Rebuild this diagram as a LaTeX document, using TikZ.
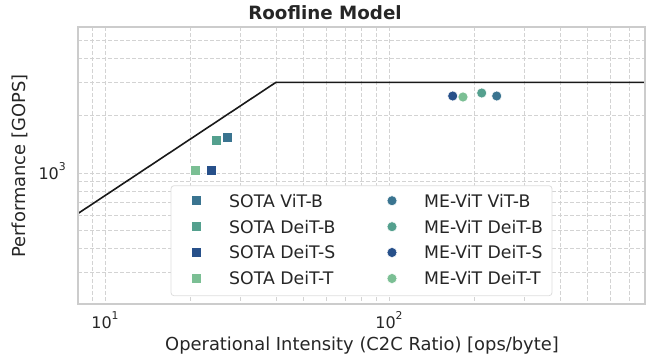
\documentclass[tikz,border=0pt]{standalone}
\usepackage{fontspec}
\setmainfont{DejaVu Sans}
\definecolor{txt}{HTML}{262626}
\definecolor{gridc}{HTML}{D3D3D3}
\definecolor{spinec}{HTML}{CCCCCC}
\definecolor{cvitb}{HTML}{3A7490}
\definecolor{cdeitb}{HTML}{54A08E}
\definecolor{cdeits}{HTML}{27508A}
\definecolor{cdeitt}{HTML}{7BBF94}
\newcommand{\tsup}[1]{\raisebox{8.6pt}{\fontsize{10.8}{11}\selectfont #1}}
\tikzset{
  gridline/.style={draw=gridc, line width=0.8pt, dash pattern=on 4pt off 2pt},
  spine/.style={draw=spinec, line width=1.2pt},
  roof/.style={draw=black!90, line width=1.6pt},
  sq/.style={rectangle, minimum size=10pt, inner sep=0pt, draw=white, line width=0.5pt, fill=#1},
  ci/.style={circle, minimum size=10pt, inner sep=0pt, draw=white, line width=0.5pt, fill=#1},
  legtext/.style={anchor=west, inner sep=0pt, font=\fontsize{17.3}{19}\selectfont},
  ticklab/.style={inner sep=0pt, anchor=base, font=\fontsize{16}{18}\selectfont},
  axlab/.style={inner sep=0pt, font=\fontsize{17.9}{20}\selectfont},
}
\begin{document}
\begin{tikzpicture}[x=1pt,y=-1pt,every node/.append style={text=txt}]
\useasboundingbox (0,0) rectangle (650,362);
% grid
\begin{scope}
\clip (78,27) rectangle (645,304);
\foreach \v in {9,10,20,30,40,50,60,70,80,90,100,200,300,400,500,600,700,800}
  \draw[gridline] ({105+284*(log10(\v)-1)},27) -- ++(0,277);
\foreach \v in {300,400,500,600,700,800,900,1000,2000,3000,4000,5000}
  \draw[gridline] (78,{173-190*(log10(\v)-3)}) -- ++(567,0);
% roofline
\coordinate (r0) at (78,213.5);
\coordinate (knee) at (276,82.3);
\coordinate (r1) at (645,82.3);
\draw[roof] (r0) -- (knee) -- (r1);
\end{scope}
\draw[spine] (78,27) rectangle (645,304);
% data points
\node[sq=cvitb] (sVitB) at (227.5,137.3) {};
\node[sq=cdeitb] (sDeitB) at (216,140.7) {};
\node[sq=cdeits] (sDeitS) at (211,170) {};
\node[sq=cdeitt] (sDeitT) at (195.7,170.7) {};
\node[ci=cdeits] (mDeitS) at (452.7,96) {};
\node[ci=cdeitt] (mDeitT) at (463,97) {};
\node[ci=cdeitb] (mDeitB) at (481.7,93) {};
\node[ci=cvitb] (mVitB) at (496.7,96) {};
% legend
\draw[draw=black!13, fill=white, line width=0.8pt, rounded corners=3pt] (171,185.7) rectangle (552,295.7);
\node[sq=cvitb] (l1) at (196.7,200.7) {};
\node[sq=cdeitb] (l2) at (196.7,226.7) {};
\node[sq=cdeits] (l3) at (196.7,252.5) {};
\node[sq=cdeitt] (l4) at (196.7,278.5) {};
\node[legtext] (t1) at (229,200.7) {SOTA ViT-B};
\node[legtext] (t2) at (229,226.7) {SOTA DeiT-B};
\node[legtext] (t3) at (229,252.5) {SOTA DeiT-S};
\node[legtext] (t4) at (229,278.5) {SOTA DeiT-T};
\node[ci=cvitb] (l5) at (392,200.7) {};
\node[ci=cdeitb] (l6) at (392,226.7) {};
\node[ci=cdeits] (l7) at (392,252.5) {};
\node[ci=cdeitt] (l8) at (392,278.5) {};
\node[legtext] (t5) at (424,200.7) {ME-ViT ViT-B};
\node[legtext] (t6) at (424,226.7) {ME-ViT DeiT-B};
\node[legtext] (t7) at (424,252.5) {ME-ViT DeiT-S};
\node[legtext] (t8) at (424,278.5) {ME-ViT DeiT-T};
% ticks
\node[ticklab] (xt1) at (105,328.3) {10\tsup{1}};
\node[ticklab] (xt2) at (389,328.3) {10\tsup{2}};
\node[ticklab, anchor=base east] (yt3) at (66,179.3) {10\tsup{3}};
% labels
\node[axlab] (xl) at (362,346) {Operational Intensity (C2C Ratio) [ops/byte]};
\node[axlab, rotate=90] (yl) at (20,166) {Performance [GOPS]};
\node[inner sep=0pt, font=\fontsize{18.3}{20}\selectfont\bfseries] (title) at (325,13) {Roofline Model};
\end{tikzpicture}
\end{document}
